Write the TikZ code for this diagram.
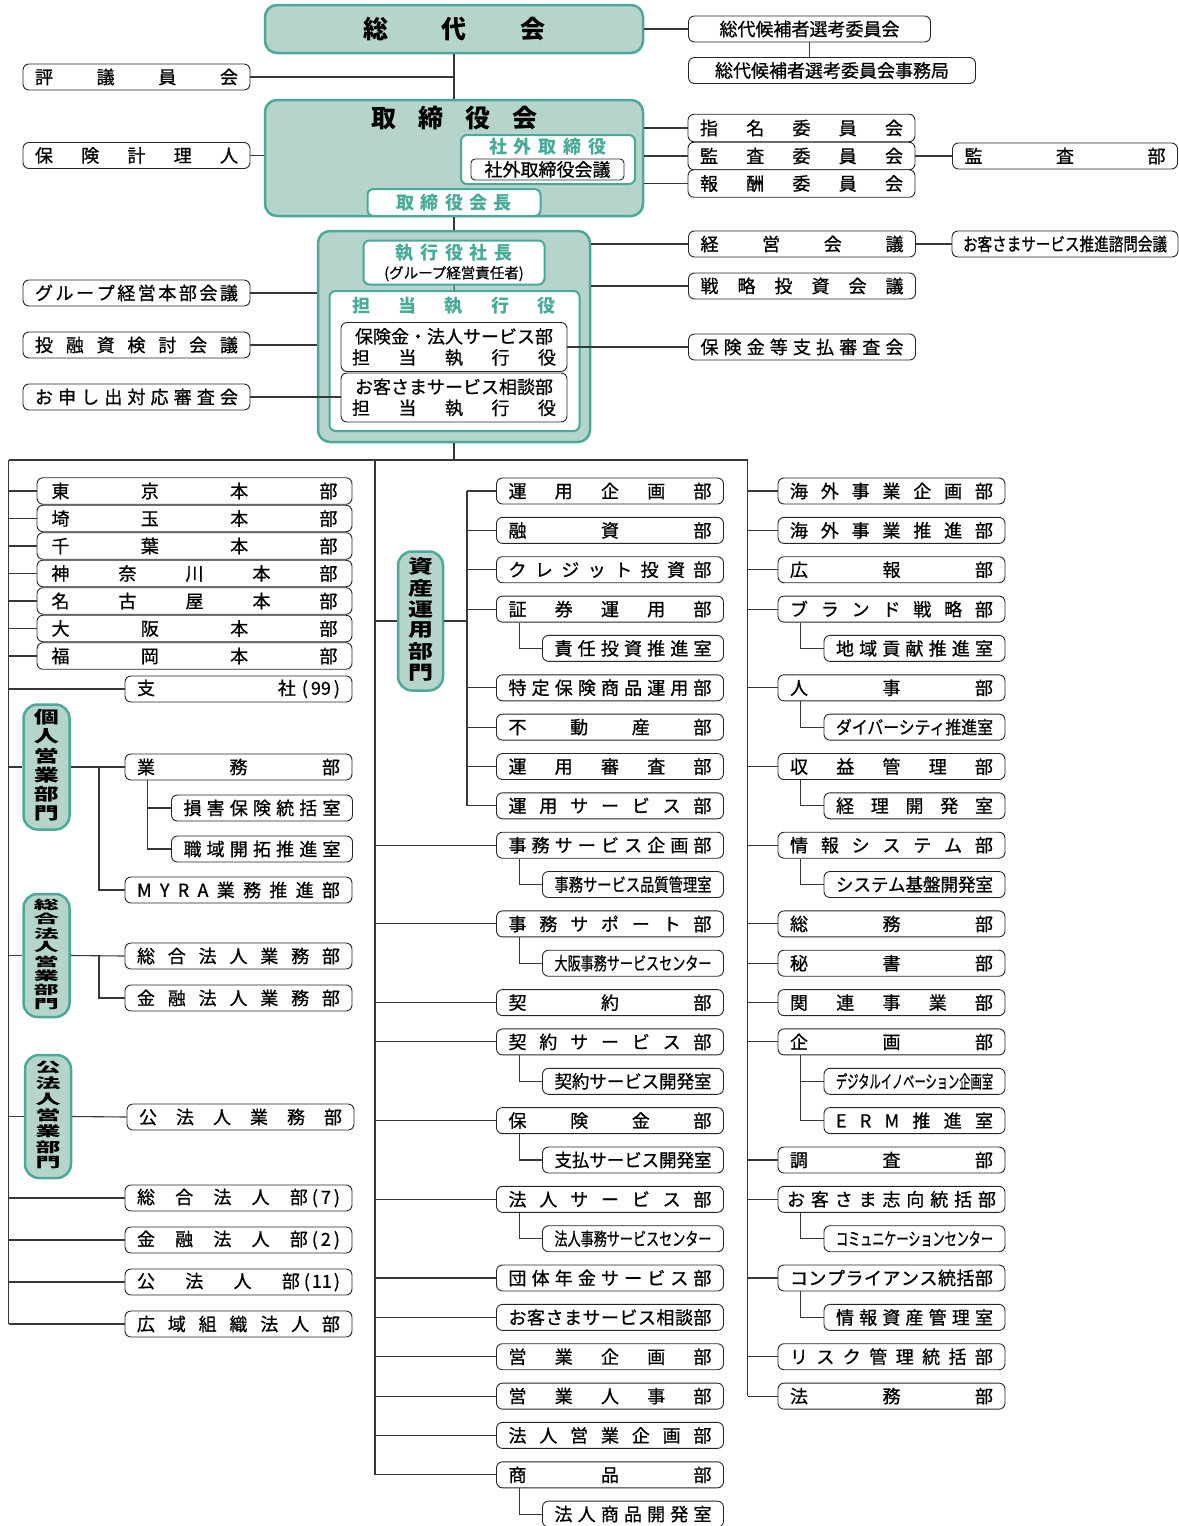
\documentclass[tikz,border=0pt]{standalone}
\usepackage{fontspec}
\setmainfont{Noto Sans CJK JP}[UprightFeatures={FakeBold=0.8}]
\usepackage{graphicx}
\usepackage{tikz}
\usetikzlibrary{positioning, calc}

\definecolor{tealfill}{RGB}{181,212,204}
\definecolor{tealline}{RGB}{76,168,152}
\definecolor{tealtext}{RGB}{72,170,152}
\definecolor{linegray}{RGB}{55,55,55}

% spread the characters of a label over a given width
\makeatletter
\def\lbl@end{\lbl@end}
\def\lbl@loop#1#2\@nil{#1\ifx\lbl@end#2\else\hfill\lbl@loop#2\@nil\fi}
\newcommand\lbl[2][203]{\hbox to #1pt{\lbl@loop#2\lbl@end\@nil}}
% squeeze a label into a given width
\newsavebox\fitsave
\newcommand\fitlbl[2][156]{\sbox\fitsave{#2}%
  \ifdim\wd\fitsave>#1pt\relax
    \edef\fitw{\strip@pt\wd\fitsave}\pgfmathsetmacro\fitf{#1/\fitw}%
    \scalebox{\fitf}[1]{\usebox\fitsave}%
  \else\hbox to #1pt{\hss\usebox\fitsave\hss}\fi}
\makeatother
% vertical division label
\newcommand\vlbl[2]{\scalebox{1}[#1]{\begin{tabular}{@{}c@{}}#2\end{tabular}}}

\tikzset{
  box/.style={draw=black!85, fill=white, line width=0.9pt, rounded corners=6pt,
    minimum height=26pt, inner sep=0pt, font=\fontsize{18}{21}\selectfont},
  unit/.style={box, minimum width=227pt},
  subunit/.style={box, minimum width=181pt},
  honbu/.style={box, minimum width=315pt, minimum height=26.5pt},
  bigbox/.style={draw=tealline, fill=tealfill, line width=2.5pt, rounded corners=12pt},
  tealbox/.style={draw=tealline, fill=white, line width=2pt, rounded corners=6pt, inner sep=0pt},
  tealhead/.style={font=\bfseries\fontsize{18}{20}\selectfont, text=tealtext, inner sep=0pt},
  title/.style={font=\bfseries\fontsize{25}{26}\selectfont, inner sep=0pt},
  divlbl/.style={draw=tealline, fill=tealfill, line width=2.5pt, rounded corners=14pt,
    minimum width=46pt, inner sep=0pt, font=\bfseries\fontsize{25}{25}\selectfont},
  conn/.style={draw=linegray, line width=1.1pt},
}

\begin{document}
\begin{tikzpicture}[x=1pt, y=-1pt]
  \useasboundingbox (0,0) rectangle (1178,1526);

  % governance
  \node[bigbox, title, minimum width=378pt, minimum height=48pt] (sodai) at (454,29) {\lbl[182]{総代会}};
  \node[box, minimum width=242pt] (senko) at (809.5,29) {総代候補者選考委員会};
  \node[box, minimum width=287pt] (senkojim) at (832,70.5) {総代候補者選考委員会事務局};
  \node[unit] (hyogi) at (136.5,77) {\lbl{評議員会}};

  \node[bigbox, minimum width=378pt, minimum height=116pt] (torishimari) at (454,158) {};
  \node[title] (torittl) at (454,118) {\lbl[166]{取締役会}};
  \node[tealbox, minimum width=174pt, minimum height=49pt] (shagai) at (548,159.5) {};
  \node[tealhead] (shagaittl) at (548,147) {\lbl[118]{社外取締役}};
  \node[box, minimum width=153pt, minimum height=21pt, rounded corners=4pt] (shagaikaigi) at (547.5,169.5) {社外取締役会議};
  \node[tealbox, tealhead, minimum width=173pt, minimum height=27pt] (kaicho) at (454,202.5) {\lbl[116]{取締役会長}};

  \node[unit] (keiri) at (136.5,155.5) {\lbl{保険計理人}};
  \node[unit, minimum height=27.5pt] (shimei) at (801.5,128) {\lbl{指名委員会}};
  \node[unit, minimum height=27.5pt] (kansa) at (801.5,156) {\lbl{監査委員会}};
  \node[unit, minimum height=27.5pt] (hoshu) at (801.5,183.5) {\lbl{報酬委員会}};
  \node[unit, minimum width=225pt] (kansabu) at (1065,156) {\lbl[201]{監査部}};

  % execution
  \node[bigbox, minimum width=272pt, minimum height=211pt] (shikko) at (454,336.5) {};
  \node[tealbox, minimum width=181pt, minimum height=44pt, align=center, font=\fontsize{18}{20}\selectfont] (shacho) at (454,262.5)
    {{\color{tealtext}\bfseries\lbl[117]{執行役社長}}\\[-1pt]{\fontsize{14.5}{16}\selectfont (グループ経営責任者)}};
  \node[tealbox, minimum width=250pt, minimum height=140pt] (tanto) at (454.5,361) {};
  \node[tealhead] (tantottl) at (454,306) {\lbl[204]{担当執行役}};
  \node[box, minimum width=226pt, minimum height=49pt, align=center] (hokenkin) at (454,347)
    {\fitlbl[204]{保険金・法人サービス部}\\\lbl[204]{担当執行役}};
  \node[box, minimum width=226pt, minimum height=49pt, align=center] (okyaku) at (454,397.5)
    {\fitlbl[204]{お客さまサービス相談部}\\\lbl[204]{担当執行役}};

  \node[unit] (group) at (136.5,293) {\lbl{グループ経営本部会議}};
  \node[unit] (yushi) at (136.5,345) {\lbl{投融資検討会議}};
  \node[unit] (moushide) at (136.5,397) {\lbl{お申し出対応審査会}};
  \node[unit] (keiei) at (802,244) {\lbl{経営会議}};
  \node[unit, minimum width=226pt] (shimon) at (1065,244) {\fitlbl[204]{お客さまサービス推進諮問会議}};
  \node[unit] (senryaku) at (802,286) {\lbl{戦略投資会議}};
  \node[unit] (shiharai) at (802,347) {\lbl{保険金等支払審査会}};

  \coordinate (busL) at (8.5,460);
  \coordinate (busM) at (375,460);
  \coordinate (busR) at (747.5,460);

  % left column
  \node[honbu] (tokyo) at (194.5,491) {\lbl[286]{東京本部}};
  \node[honbu] (saitama) at (194.5,518.5) {\lbl[286]{埼玉本部}};
  \node[honbu] (chiba) at (194.5,546) {\lbl[286]{千葉本部}};
  \node[honbu] (kanagawa) at (194.5,573.5) {\lbl[286]{神奈川本部}};
  \node[honbu] (nagoya) at (194.5,601) {\lbl[286]{名古屋本部}};
  \node[honbu] (osakahonbu) at (194.5,628.5) {\lbl[286]{大阪本部}};
  \node[honbu] (fukuoka) at (194.5,656) {\lbl[286]{福岡本部}};
  \node[unit] (shisha) at (238.5,689) {\hbox to 203pt{支\hfill 社\hspace{6pt}(\hspace{3pt}99\hspace{3pt})}};

  \node[divlbl, minimum height=125pt] (kojin) at (46.5,767) {\vlbl{0.67}{個\\人\\営\\業\\部\\門}};
  \node[unit] (gyomu) at (238.5,767) {\lbl{業務部}};
  \node[subunit] (songai) at (262,808) {\lbl[157]{損害保険統括室}};
  \node[subunit] (shokuiki) at (262,849) {\lbl[157]{職域開拓推進室}};
  \node[unit] (myra) at (238.5,890) {\lbl{MYRA業務推進部}};

  \node[divlbl, minimum height=123pt] (sogo) at (46.5,955.5) {\vlbl{0.49}{総\\合\\法\\人\\営\\業\\部\\門}};
  \node[unit] (sogogyomu) at (238.5,956) {\lbl{総合法人業務部}};
  \node[unit] (kinyugyomu) at (238.5,998) {\lbl{金融法人業務部}};

  \node[divlbl, minimum height=123pt] (kohojin) at (48,1116.5) {\vlbl{0.55}{公\\法\\人\\営\\業\\部\\門}};
  \node[unit] (kohojingyomu) at (240.5,1117) {\lbl{公法人業務部}};
  \node[unit] (sogohojin) at (238.5,1198) {\lbl{総合法人{部\hspace{4pt}(\hspace{3pt}7\hspace{3pt})}}};
  \node[unit] (kinyuhojin) at (238.5,1240) {\lbl{金融法人{部\hspace{4pt}(\hspace{3pt}2\hspace{3pt})}}};
  \node[unit] (kohojinbu) at (238.5,1282) {\lbl{公法人{部\hspace{4pt}(\hspace{2pt}11\hspace{2pt})}}};
  \node[unit] (kouiki) at (238.5,1324) {\lbl{広域組織法人部}};

  % middle column
  \node[divlbl, minimum width=45pt, minimum height=139pt] (shisan) at (420.5,621) {\vlbl{0.75}{資\\産\\運\\用\\部\\門}};
  \node[unit] (unyokikaku) at (610,491) {\lbl{運用企画部}};
  \node[unit] (yushibu) at (610,530.4) {\lbl{融資部}};
  \node[unit] (credit) at (610,569.7) {\lbl{クレジット投資部}};
  \node[unit] (shoken) at (610,609.1) {\lbl{証券運用部}};
  \node[subunit] (sekinin) at (633,648.4) {\lbl[157]{責任投資推進室}};
  \node[unit] (tokutei) at (610,687.8) {\lbl{特定保険商品運用部}};
  \node[unit] (fudosan) at (610,727.1) {\lbl{不動産部}};
  \node[unit] (shinsa) at (610,766.5) {\lbl{運用審査部}};
  \node[unit] (unyoservice) at (610,805.8) {\lbl{運用サービス部}};
  \node[unit] (jimukikaku) at (610,845.2) {\lbl{事務サービス企画部}};
  \node[subunit] (hinshitsu) at (633,884.5) {\fitlbl[157]{事務サービス品質管理室}};
  \node[unit] (jimusupport) at (610,923.9) {\lbl{事務サポート部}};
  \node[subunit] (osaka) at (633,963.2) {\fitlbl[157]{大阪事務サービスセンター}};
  \node[unit] (keiyaku) at (610,1002.6) {\lbl{契約部}};
  \node[unit] (keiyakuservice) at (610,1041.9) {\lbl{契約サービス部}};
  \node[subunit] (keiyakukaihatsu) at (633,1081.3) {\fitlbl[157]{契約サービス開発室}};
  \node[unit] (hokenkinbu) at (610,1120.6) {\lbl{保険金部}};
  \node[subunit] (shiharaikaihatsu) at (633,1160) {\fitlbl[157]{支払サービス開発室}};
  \node[unit] (hojinservice) at (610,1199.3) {\lbl{法人サービス部}};
  \node[subunit] (hojinjimu) at (633,1238.7) {\fitlbl[157]{法人事務サービスセンター}};
  \node[unit] (dantai) at (610,1278) {\lbl{団体年金サービス部}};
  \node[unit] (sodan) at (610,1317.4) {\lbl{お客さまサービス相談部}};
  \node[unit] (eigyokikaku) at (610,1356.7) {\lbl{営業企画部}};
  \node[unit] (eigyojinji) at (610,1396.1) {\lbl{営業人事部}};
  \node[unit] (hojineigyo) at (610,1435.4) {\lbl{法人営業企画部}};
  \node[unit] (shohin) at (610,1474.8) {\lbl{商品部}};
  \node[subunit] (hojinshohin) at (633,1514.1) {\lbl[157]{法人商品開発室}};

  % right column
  \node[unit] (kaigaikikaku) at (891.5,491) {\lbl{海外事業企画部}};
  \node[unit] (kaigaisuishin) at (891.5,530.4) {\lbl{海外事業推進部}};
  \node[unit] (koho) at (891.5,569.7) {\lbl{広報部}};
  \node[unit] (brand) at (891.5,609.1) {\lbl{ブランド戦略部}};
  \node[subunit] (chiiki) at (914.5,648.4) {\lbl[157]{地域貢献推進室}};
  \node[unit] (jinji) at (891.5,687.8) {\lbl{人事部}};
  \node[subunit] (diversity) at (914.5,727.1) {\fitlbl[157]{ダイバーシティ推進室}};
  \node[unit] (shueki) at (891.5,766.5) {\lbl{収益管理部}};
  \node[subunit] (keirikaihatsu) at (914.5,805.8) {\lbl[157]{経理開発室}};
  \node[unit] (johosys) at (891.5,845.2) {\lbl{情報システム部}};
  \node[subunit] (sysbase) at (914.5,884.5) {\fitlbl[157]{システム基盤開発室}};
  \node[unit] (somu) at (891.5,923.9) {\lbl{総務部}};
  \node[unit] (hisho) at (891.5,963.2) {\lbl{秘書部}};
  \node[unit] (kanren) at (891.5,1002.6) {\lbl{関連事業部}};
  \node[unit] (kikaku) at (891.5,1041.9) {\lbl{企画部}};
  \node[subunit] (digital) at (914.5,1081.3) {\fitlbl[157]{デジタルイノベーション企画室}};
  \node[subunit] (erm) at (914.5,1120.6) {\lbl[157]{ERM推進室}};
  \node[unit] (chosa) at (891.5,1160) {\lbl{調査部}};
  \node[unit] (shiko) at (891.5,1199.3) {\lbl[209]{お客さま志向統括部}};
  \node[subunit] (comm) at (914.5,1238.7) {\fitlbl[157]{コミュニケーションセンター}};
  \node[unit] (compliance) at (891.5,1278) {\lbl{コンプライアンス統括部}};
  \node[subunit] (shisankanri) at (914.5,1317.4) {\lbl[157]{情報資産管理室}};
  \node[unit] (risk) at (891.5,1356.7) {\lbl{リスク管理統括部}};
  \node[unit] (homu) at (891.5,1396.1) {\lbl{法務部}};

  % connectors: governance and execution
  \draw[conn] (sodai) -- (torishimari);
  \draw[conn] (sodai.east) -- (sodai.east -| senko.west);
  \draw[conn] (senko) -- (senko |- senkojim.north);
  \draw[conn] (hyogi.east) -- (hyogi.east -| sodai.south);
  \draw[conn] (keiri.east) -- (keiri.east -| torishimari.west);
  \foreach \n in {shimei,kansa,hoshu}
    \draw[conn] (\n.west) -- (\n.west -| torishimari.east);
  \draw[conn] (kansa.east) -- (kansabu.west);
  \draw[conn] (torishimari) -- (shikko);
  \draw[conn] (shacho) -- (tanto);
  \foreach \n in {group,yushi}
    \draw[conn] (\n.east) -- (\n.east -| shikko.west);
  \draw[conn] (moushide.east) -- (moushide.east -| okyaku.west);
  \foreach \n in {keiei,senryaku}
    \draw[conn] (\n.west) -- (\n.west -| shikko.east);
  \draw[conn] (keiei.east) -- (shimon.west);
  \draw[conn] (shiharai.west) -- (shiharai.west -| hokenkin.east);

  % connectors: departments
  \draw[conn] (shikko.south) -- (shikko.south |- busM);
  \draw[conn] (busL) -- (busR);
  \draw[conn] (busL) -- (busL |- kouiki.west);
  \foreach \n in {tokyo,saitama,chiba,kanagawa,nagoya,osakahonbu,fukuoka,shisha,kojin,sogo,kohojin,sogohojin,kinyuhojin,kohojinbu,kouiki}
    \draw[conn] (busL |- \n.west) -- (\n.west);
  \coordinate (kojinbr) at (99,767);
  \draw[conn] (kojin.east) -- (gyomu.west);
  \draw[conn] (kojinbr) |- (myra.west);
  \draw[conn] ([xshift=23pt]gyomu.south west) |- (songai.west);
  \draw[conn] ([xshift=23pt]gyomu.south west) |- (shokuiki.west);
  \coordinate (sogobr) at (99,956);
  \draw[conn] (sogo.east) -- (sogogyomu.west);
  \draw[conn] (sogobr) |- (kinyugyomu.west);
  \draw[conn] (kohojin.east) -- (kohojingyomu.west);

  \draw[conn] (busM) -- (busM |- shohin.west);
  \foreach \n in {shisan,jimukikaku,jimusupport,keiyaku,keiyakuservice,hokenkinbu,hojinservice,dantai,sodan,eigyokikaku,eigyojinji,hojineigyo,shohin}
    \draw[conn] (busM |- \n.west) -- (\n.west);
  \coordinate (shisanbr) at (467,491);
  \draw[conn] (shisan.east) -- (shisan.east -| shisanbr);
  \draw[conn] (shisanbr) -- (shisanbr |- unyoservice.west);
  \foreach \n in {unyokikaku,yushibu,credit,shoken,tokutei,fudosan,shinsa,unyoservice}
    \draw[conn] (shisanbr |- \n.west) -- (\n.west);

  \draw[conn] (busR) -- (busR |- homu.west);
  \foreach \n in {kaigaikikaku,kaigaisuishin,koho,brand,jinji,shueki,johosys,somu,hisho,kanren,kikaku,chosa,shiko,compliance,risk,homu}
    \draw[conn] (busR |- \n.west) -- (\n.west);

  \foreach \p/\c in {shoken/sekinin,jimukikaku/hinshitsu,jimusupport/osaka,keiyakuservice/keiyakukaihatsu,hokenkinbu/shiharaikaihatsu,hojinservice/hojinjimu,shohin/hojinshohin,brand/chiiki,jinji/diversity,shueki/keirikaihatsu,johosys/sysbase,kikaku/digital,kikaku/erm,shiko/comm,compliance/shisankanri}
    \draw[conn] ([xshift=23pt]\p.south west) |- (\c.west);
\end{tikzpicture}
\end{document}
